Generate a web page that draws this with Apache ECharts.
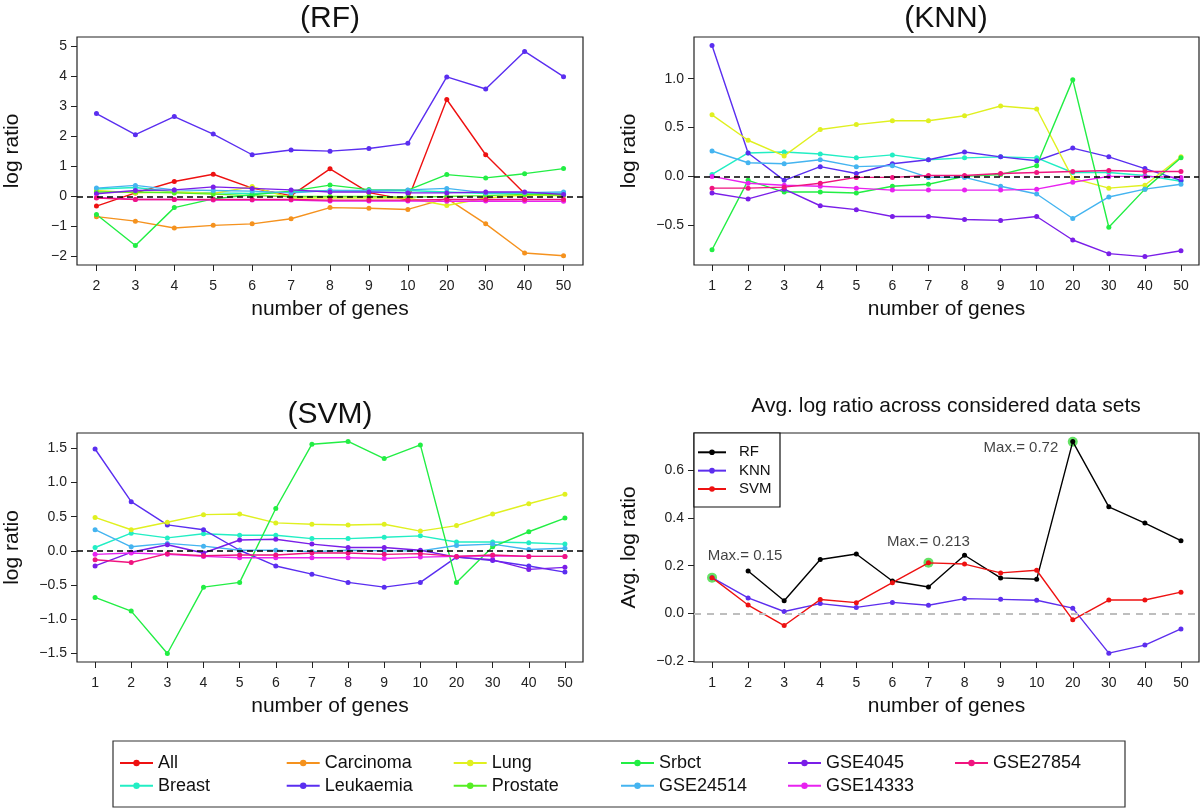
<!DOCTYPE html>
<html>
<head>
<meta charset="utf-8">
<script src="https://cdn.jsdelivr.net/npm/echarts@6/dist/echarts.min.js"></script>
<style>
html,body{margin:0;padding:0;background:#fff;}
#chart{width:1200px;height:810px;}
</style>
</head>
<body>
<div id="chart"></div>
<script>
// ---------------- DATA ----------------
const rfGenes = ['2','3','4','5','6','7','8','9','10','20','30','40','50'];
const genes = ['1','2','3','4','5','6','7','8','9','10','20','30','40','50'];

// RF panel (x = 2..50)
const rfAll       = [-0.32, 0.12, 0.50, 0.74, 0.28, 0.03, 0.92, 0.13, -0.11, 3.23, 1.39, 0.10, 0.05];
const rfBreast    = [0.25, 0.30, 0.15, 0.12, 0.10, 0.15, 0.20, 0.18, 0.20, 0.15, 0.10, 0.10, 0.10];
const rfCarcinoma = [-0.67, -0.82, -1.05, -0.96, -0.91, -0.74, -0.37, -0.39, -0.43, -0.06, -0.91, -1.88, -1.97];
const rfLeukaemia = [2.76, 2.06, 2.66, 2.08, 1.39, 1.55, 1.51, 1.60, 1.77, 3.98, 3.58, 4.83, 3.99];
const rfLung      = [0.20, 0.12, 0.15, 0.10, 0.33, -0.05, -0.05, -0.05, -0.05, -0.30, -0.05, 0.05, 0.02];
const rfProstate  = [0.15, 0.15, 0.12, 0.08, 0.03, 0.00, 0.00, 0.00, -0.02, 0.00, 0.03, 0.07, 0.05];
const rfSrbct     = [-0.60, -1.63, -0.37, -0.08, 0.06, 0.18, 0.38, 0.23, 0.21, 0.73, 0.62, 0.76, 0.93];
const rfGSE24514  = [0.28, 0.37, 0.22, 0.20, 0.18, 0.12, 0.20, 0.20, 0.22, 0.27, 0.12, 0.13, 0.15];
const rfGSE4045   = [0.09, 0.20, 0.22, 0.32, 0.27, 0.22, 0.15, 0.15, 0.12, 0.12, 0.15, 0.15, 0.07];
const rfGSE14333  = [-0.03, -0.10, -0.10, -0.12, -0.12, -0.12, -0.15, -0.15, -0.15, -0.16, -0.15, -0.16, -0.16];
const rfGSE27854  = [-0.05, -0.10, -0.10, -0.10, -0.10, -0.10, -0.12, -0.12, -0.12, -0.10, -0.10, -0.10, -0.10];

// KNN panel (x = 1..50)
const knnBreast    = [0.02, 0.24, 0.25, 0.23, 0.19, 0.22, 0.17, 0.19, 0.20, 0.19, 0.04, 0.04, 0.01, -0.05];
const knnLeukaemia = [1.34, 0.24, -0.04, 0.10, 0.03, 0.13, 0.17, 0.25, 0.20, 0.16, 0.29, 0.20, 0.08, -0.04];
const knnLung      = [0.63, 0.37, 0.21, 0.48, 0.53, 0.57, 0.57, 0.62, 0.72, 0.69, -0.02, -0.12, -0.09, 0.20];
const knnSrbct     = [-0.75, -0.04, -0.16, -0.16, -0.17, -0.10, -0.08, 0.00, 0.02, 0.11, 0.99, -0.52, -0.13, 0.19];
const knnGSE24514  = [0.26, 0.14, 0.13, 0.17, 0.10, 0.11, -0.01, -0.01, -0.10, -0.18, -0.43, -0.21, -0.13, -0.08];
const knnGSE4045   = [-0.17, -0.23, -0.13, -0.30, -0.34, -0.41, -0.41, -0.44, -0.45, -0.41, -0.65, -0.79, -0.82, -0.76];
const knnGSE14333  = [0.00, -0.07, -0.09, -0.10, -0.12, -0.14, -0.14, -0.14, -0.14, -0.13, -0.06, 0.00, 0.00, -0.01];
const knnGSE27854  = [-0.12, -0.12, -0.11, -0.07, -0.01, -0.01, 0.01, 0.01, 0.03, 0.04, 0.05, 0.06, 0.05, 0.05];

// SVM panel (x = 1..50)
const svmBreast    = [0.05, 0.26, 0.19, 0.25, 0.23, 0.23, 0.18, 0.18, 0.20, 0.22, 0.13, 0.13, 0.12, 0.10];
const svmLeukaemia = [1.49, 0.72, 0.38, 0.31, 0.01, -0.22, -0.34, -0.46, -0.53, -0.46, -0.09, -0.14, -0.22, -0.31];
const svmLung      = [0.49, 0.31, 0.42, 0.53, 0.54, 0.41, 0.39, 0.38, 0.39, 0.29, 0.37, 0.54, 0.69, 0.83];
const svmSrbct     = [-0.68, -0.88, -1.50, -0.53, -0.46, 0.62, 1.56, 1.60, 1.35, 1.55, -0.46, 0.06, 0.28, 0.48];
const svmGSE24514  = [0.31, 0.06, 0.11, 0.07, 0.01, 0.01, -0.01, 0.01, 0.00, 0.00, 0.08, 0.10, 0.02, 0.04];
const svmGSE4045   = [-0.22, -0.02, 0.09, -0.03, 0.16, 0.17, 0.10, 0.05, 0.05, 0.01, -0.09, -0.13, -0.27, -0.24];
const svmGSE14333  = [-0.05, -0.03, -0.05, -0.08, -0.10, -0.10, -0.10, -0.10, -0.11, -0.09, -0.08, -0.07, -0.08, -0.08];
const svmGSE27854  = [-0.13, -0.17, -0.04, -0.07, -0.06, -0.06, -0.03, -0.03, -0.05, -0.04, -0.08, -0.06, -0.08, -0.08];

// Average panel (x = 1..50)
const avgRF  = [null, 0.178, 0.053, 0.226, 0.249, 0.136, 0.111, 0.244, 0.149, 0.143, 0.721, 0.447, 0.379, 0.305];
const avgKNN = [0.150, 0.065, 0.008, 0.041, 0.025, 0.046, 0.034, 0.062, 0.059, 0.055, 0.022, -0.167, -0.133, -0.065];
const avgSVM = [0.150, 0.035, -0.051, 0.058, 0.045, 0.129, 0.212, 0.207, 0.170, 0.181, -0.027, 0.056, 0.056, 0.089];

// Maxima annotations
const maxGenes  = ['1', '7', '20'];
const maxValues = [0.15, 0.213, 0.72];
const maxTexts  = ['Max.= 0.15', 'Max.= 0.213', 'Max.= 0.72'];

// Tick labels
const rfTicks  = [-2, -1, 0, 1, 2, 3, 4, 5];
const knnTicks = [-0.5, 0.0, 0.5, 1.0];
const svmTicks = [-1.5, -1.0, -0.5, 0.0, 0.5, 1.0, 1.5];
const avgTicks = [-0.2, 0.0, 0.2, 0.4, 0.6];

// Legend layout (columns)
const legendColumns = [['All','Breast'],['Carcinoma','Leukaemia'],['Lung','Prostate'],['Srbct','GSE24514'],['GSE4045','GSE14333'],['GSE27854']];

// ---------------- STYLES ----------------
const FONT = '"Liberation Sans", Arial, Helvetica, sans-serif';
const colors = {
  'All': '#EE1111', 'Breast': '#22EEC4', 'Carcinoma': '#F5921E', 'Leukaemia': '#5A2EF0',
  'Lung': '#E0F020', 'Prostate': '#55EE22', 'Srbct': '#22EE44', 'GSE24514': '#44B4F0',
  'GSE4045': '#7A1EE8', 'GSE14333': '#E822F0', 'GSE27854': '#F0147F',
  'RF': '#000000', 'KNN': '#5D2EEE', 'SVM': '#EE1111'
};

function fmt(v, dec) {
  return Number(v).toFixed(dec).replace('-', '\u2212');
}

function lineSeries(name, data, idx) {
  return {
    type: 'line', name: name, data: data, xAxisIndex: idx, yAxisIndex: idx,
    symbol: 'circle', symbolSize: 5, showSymbol: true, showAllSymbol: true,
    connectNulls: false, animation: false, silent: true, z: 2,
    lineStyle: { width: 1.4, color: colors[name] },
    itemStyle: { color: colors[name] },
    emphasis: { disabled: true }
  };
}

function zeroLine(color, width, dash) {
  return {
    silent: true, symbol: ['none', 'none'], label: { show: false },
    lineStyle: { color: color, width: width, type: dash },
    emphasis: { disabled: true },
    data: [{ yAxis: 0 }]
  };
}

function xAxis(idx, data) {
  return {
    type: 'category', gridIndex: idx, data: data, boundaryGap: true,
    axisLine: { show: false, onZero: false },
    axisTick: { show: true, alignWithLabel: true, length: 6, lineStyle: { color: '#222', width: 1 } },
    axisLabel: { interval: 0, fontSize: 14, margin: 14, color: '#222', fontFamily: FONT },
    splitLine: { show: false },
    name: 'number of genes', nameLocation: 'middle', nameGap: 34,
    nameTextStyle: { fontSize: 21, color: '#111', fontFamily: FONT }
  };
}

function yAxis(idx, min, max, ticks, dec, name) {
  return {
    type: 'value', gridIndex: idx, min: min, max: max,
    name: name, nameLocation: 'middle', nameGap: 54, nameRotate: 90,
    nameTextStyle: { fontSize: 21, color: '#111', fontFamily: FONT },
    axisLine: { show: false, onZero: false }, splitLine: { show: false },
    axisTick: { show: true, length: 6, lineStyle: { color: '#222', width: 1 }, customValues: ticks },
    axisLabel: { fontSize: 14, color: '#222', margin: 10, fontFamily: FONT, customValues: ticks,
      formatter: function (v) { return fmt(v, dec); } }
  };
}

const gridBase = { show: true, borderColor: '#222', borderWidth: 1.2, backgroundColor: 'transparent', containLabel: false };

// ---------------- SERIES ----------------
const rfSeries = [
  ['All', rfAll], ['Breast', rfBreast], ['Carcinoma', rfCarcinoma], ['Leukaemia', rfLeukaemia],
  ['Lung', rfLung], ['Prostate', rfProstate], ['Srbct', rfSrbct], ['GSE24514', rfGSE24514],
  ['GSE4045', rfGSE4045], ['GSE14333', rfGSE14333], ['GSE27854', rfGSE27854]
].map(d => lineSeries(d[0], d[1], 0));
rfSeries[rfSeries.length - 1].markLine = zeroLine('#000', 1.5, [6, 4]);

const knnSeries = [
  ['Breast', knnBreast], ['Leukaemia', knnLeukaemia], ['Lung', knnLung], ['Srbct', knnSrbct],
  ['GSE24514', knnGSE24514], ['GSE4045', knnGSE4045], ['GSE14333', knnGSE14333], ['GSE27854', knnGSE27854]
].map(d => lineSeries(d[0], d[1], 1));
knnSeries[knnSeries.length - 1].markLine = zeroLine('#000', 1.5, [6, 4]);

const svmSeries = [
  ['Breast', svmBreast], ['Leukaemia', svmLeukaemia], ['Lung', svmLung], ['Srbct', svmSrbct],
  ['GSE24514', svmGSE24514], ['GSE4045', svmGSE4045], ['GSE14333', svmGSE14333], ['GSE27854', svmGSE27854]
].map(d => lineSeries(d[0], d[1], 2));
svmSeries[svmSeries.length - 1].markLine = zeroLine('#000', 1.5, [6, 4]);

const avgSeries = [['RF', avgRF], ['KNN', avgKNN], ['SVM', avgSVM]].map(d => lineSeries(d[0], d[1], 3));
avgSeries[0].markLine = zeroLine('#BEBEBE', 2, [7, 6]);

const maxLabelLayout = [
  { position: [38, -16.6], align: 'center', verticalAlign: 'middle' },
  { position: [5, -15.4], align: 'center', verticalAlign: 'middle' },
  { position: [-9.5, 10.7], align: 'right', verticalAlign: 'middle' }
];
const maxSeries = {
  type: 'scatter', name: 'maxima', xAxisIndex: 3, yAxisIndex: 3, z: 1, silent: true, animation: false,
  symbol: 'circle', symbolSize: 10, itemStyle: { color: '#3EDB3E' },
  data: maxGenes.map((g, i) => ({
    value: [g, maxValues[i]],
    label: Object.assign({ show: true, formatter: maxTexts[i], fontSize: 15, color: '#111', fontFamily: FONT }, maxLabelLayout[i])
  }))
};

// ---------------- LEGENDS ----------------
const legendX = [119, 285.7, 452.7, 620, 787, 954];
const legends = legendColumns.map((names, i) => ({
  data: names, orient: 'vertical', left: legendX[i], top: 753, padding: 0,
  itemWidth: 33, itemHeight: 8, itemGap: 2.7, selectedMode: false,
  textStyle: { fontSize: 18, lineHeight: 20, color: '#111', fontFamily: FONT }
}));
legends.push({
  data: ['RF', 'KNN', 'SVM'], orient: 'vertical', left: 697, top: 444.3, padding: 0,
  itemWidth: 28, itemHeight: 7, itemGap: 2.35, selectedMode: false,
  textStyle: { fontSize: 15, lineHeight: 16, color: '#111', fontFamily: FONT, padding: [0, 0, 0, 8] }
});

// ---------------- OPTION ----------------
const titleStyle = { fontSize: 30, fontWeight: 'normal', color: '#111', fontFamily: FONT };
const option = {
  backgroundColor: '#ffffff',
  animation: false,
  title: [
    { text: '(RF)', left: 330, top: 19, textAlign: 'center', textVerticalAlign: 'middle', padding: 0, textStyle: titleStyle },
    { text: '(KNN)', left: 946, top: 19, textAlign: 'center', textVerticalAlign: 'middle', padding: 0, textStyle: titleStyle },
    { text: '(SVM)', left: 330, top: 415, textAlign: 'center', textVerticalAlign: 'middle', padding: 0, textStyle: titleStyle },
    { text: 'Avg. log ratio across considered data sets', left: 946, top: 406, textAlign: 'center', textVerticalAlign: 'middle', padding: 0,
      textStyle: { fontSize: 21, fontWeight: 'normal', color: '#111', fontFamily: FONT } }
  ],
  grid: [
    Object.assign({ left: 77, top: 37, width: 506, height: 228 }, gridBase),
    Object.assign({ left: 694, top: 37, width: 505, height: 228 }, gridBase),
    Object.assign({ left: 77, top: 433, width: 506, height: 229 }, gridBase),
    Object.assign({ left: 694, top: 433, width: 505, height: 229 }, gridBase)
  ],
  xAxis: [xAxis(0, rfGenes), xAxis(1, genes), xAxis(2, genes), xAxis(3, genes)],
  yAxis: [
    yAxis(0, -2.28, 5.31, rfTicks, 0, 'log ratio'),
    yAxis(1, -0.906, 1.426, knnTicks, 1, 'log ratio'),
    yAxis(2, -1.624, 1.724, svmTicks, 1, 'log ratio'),
    yAxis(3, -0.204, 0.757, avgTicks, 1, 'Avg. log ratio')
  ],
  legend: legends,
  graphic: [
    { type: 'rect', shape: { x: 113, y: 741, width: 1012, height: 66 }, style: { fill: 'none', stroke: '#333', lineWidth: 1.2 }, silent: true },
    { type: 'rect', shape: { x: 694, y: 433, width: 86, height: 74 }, style: { fill: '#fff', stroke: '#111', lineWidth: 1.2 }, silent: true, z: 3 }
  ],
  series: [].concat(rfSeries, knnSeries, svmSeries, [maxSeries], avgSeries)
};

const chart = echarts.init(document.getElementById('chart'), null, { renderer: 'canvas' });
chart.setOption(option);
</script>
</body>
</html>
